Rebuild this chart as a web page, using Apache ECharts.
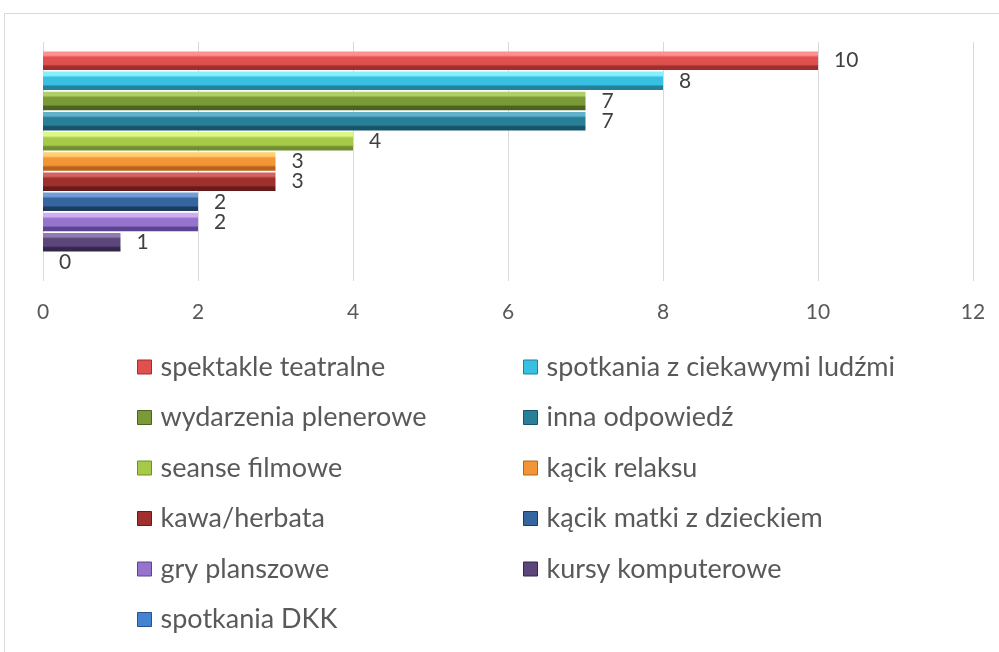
<!DOCTYPE html>
<html>
<head>
<meta charset="utf-8">
<script src="https://cdn.jsdelivr.net/npm/echarts@6/dist/echarts.min.js"></script>
<style>
html,body{margin:0;padding:0;background:#fff;}
#chart{width:999px;height:652px;}
</style>
</head>
<body>
<div id="chart"></div>
<script>
// Data
const seriesNames = [
  'spektakle teatralne',
  'spotkania z ciekawymi ludźmi',
  'wydarzenia plenerowe',
  'inna odpowiedź',
  'seanse filmowe',
  'kącik relaksu',
  'kawa/herbata',
  'kącik matki z dzieckiem',
  'gry planszowe',
  'kursy komputerowe',
  'spotkania DKK'
];
const seriesValues = [10, 8, 7, 7, 4, 3, 3, 2, 2, 1, 0];
const xTicks = [0, 2, 4, 6, 8, 10, 12];

// Styles (light top, body, dark bottom)
const palette = [
  ['#ff9090', '#e0504e', '#9e2f2d'],
  ['#86f0ff', '#38c0e2', '#23819b'],
  ['#b0cf68', '#7a9a38', '#4a6320'],
  ['#60b2cc', '#2a7f98', '#17546a'],
  ['#def78a', '#a6ca48', '#6f8f30'],
  ['#ffd070', '#f29536', '#b8621c'],
  ['#d46260', '#a0302e', '#651b1a'],
  ['#6f9fd6', '#36669f', '#1d3a62'],
  ['#cfaef5', '#9673cd', '#5c4490'],
  ['#927aB2', '#5d4679', '#35264d'],
  ['#80b4f0', '#4383cf', '#24538f']
];

function grad(c) {
  return new echarts.graphic.LinearGradient(0, 0, 0, 1, [
    {offset: 0, color: c[0]},
    {offset: 0.2, color: c[0]},
    {offset: 0.32, color: c[1]},
    {offset: 0.7, color: c[1]},
    {offset: 0.8, color: c[2]},
    {offset: 1, color: c[2]}
  ]);
}

const series = seriesNames.map((name, i) => ({
  name: name,
  type: 'bar',
  data: [seriesValues[i]],
  barWidth: 18.5,
  barGap: '9%',
  itemStyle: {color: grad(palette[i]), borderWidth: 0},
  label: {
    show: true,
    position: 'right',
    distance: 16,
    color: '#404040',
    fontSize: 21,
    fontFamily: 'Lato'
  }
}));

function legendItems(parity) {
  return seriesNames
    .map((name, i) => ({name: name, i: i}))
    .filter(o => o.i % 2 === parity)
    .map(o => ({
      name: o.name,
      itemStyle: {color: palette[o.i][1], borderColor: palette[o.i][2], borderWidth: 1}
    }));
}

const legendBase = {
  orient: 'vertical',
  top: 348,
  itemWidth: 14,
  itemHeight: 14,
  itemGap: 22.5,
  icon: 'rect',
  textStyle: {color: '#595959', fontSize: 27, fontFamily: 'Lato', lineHeight: 28, padding: [0, 0, 0, 4]}
};

const chart = echarts.init(document.getElementById('chart'));
chart.setOption({
  animation: false,
  backgroundColor: '#fff',
  graphic: [{
    type: 'rect',
    shape: {x: 4.5, y: 13.5, width: 1100, height: 800},
    style: {fill: 'none', stroke: '#d9d9d9', lineWidth: 1},
    silent: true
  }],
  legend: [
    Object.assign({}, legendBase, {left: 132, data: legendItems(0)}),
    Object.assign({}, legendBase, {left: 518, data: legendItems(1)})
  ],
  grid: {left: 43, right: 26, top: 42, bottom: 371, containLabel: false},
  xAxis: {
    type: 'value',
    min: xTicks[0],
    max: xTicks[xTicks.length - 1],
    interval: 2,
    axisLine: {show: false},
    axisTick: {show: false},
    splitLine: {show: true, lineStyle: {color: '#d9d9d9', width: 1}},
    axisLabel: {color: '#595959', fontSize: 21, fontFamily: 'Lato', margin: 21}
  },
  yAxis: {
    type: 'category',
    data: [''],
    axisLine: {show: false},
    axisTick: {show: false},
    axisLabel: {show: false}
  },
  series: series
});
</script>
</body>
</html>
